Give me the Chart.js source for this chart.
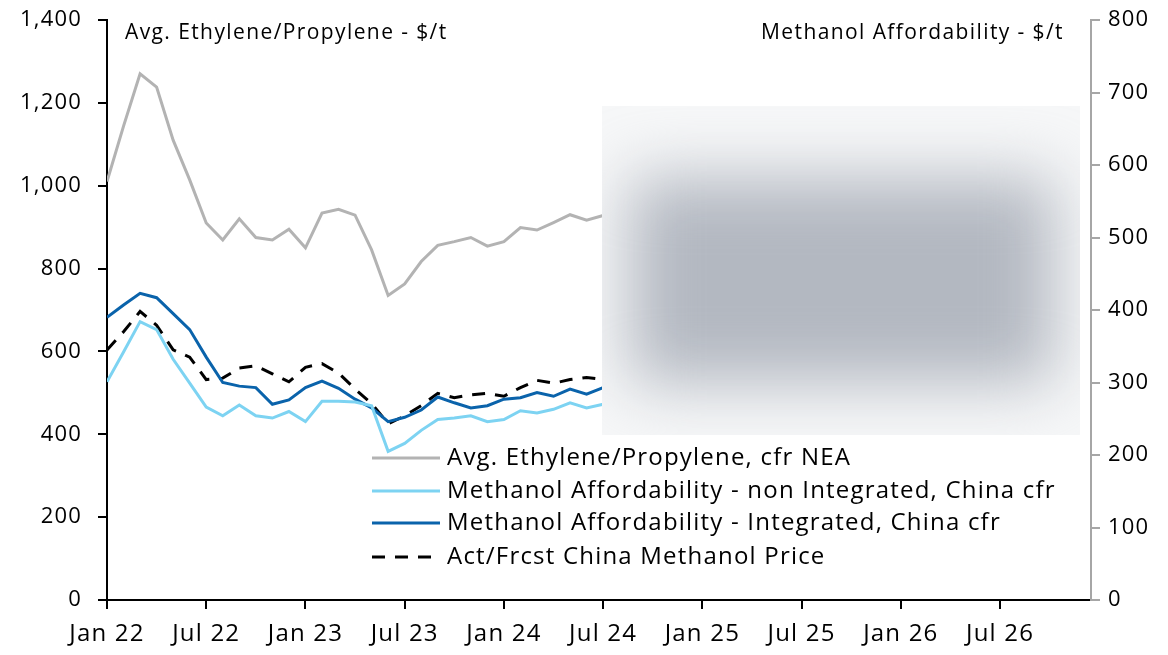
<!DOCTYPE html>
<html>
<head>
<meta charset="utf-8">
<script src="https://cdn.jsdelivr.net/npm/chart.js@4.4.0/dist/chart.umd.min.js"></script>
<style>
  html, body { margin: 0; padding: 0; background: #fff; }
  #wrap { position: relative; width: 1168px; height: 655px; }
  #blurBox {
    position: absolute; left: 602px; top: 106px; width: 478px; height: 329px;
    background: #f6f7f8; overflow: hidden;
  }
  #blurBox div {
    position: absolute; left: 28px; top: 72px; width: 424px; height: 205px;
    background: #b3b8c1; filter: blur(32px);
  }
</style>
</head>
<body>
<div id="wrap">
  <canvas id="chart" width="1168" height="655"></canvas>
  <div id="blurBox"><div></div></div>
</div>
<script>
// ---------- data (monthly, Jan 22 .. Jul 24) ---------- //
const tickLabels = ["Jan 22", "Jul 22", "Jan 23", "Jul 23", "Jan 24", "Jul 24", "Jan 25", "Jul 25", "Jan 26", "Jul 26"];

const ethylenePropylene = [1010, 1144, 1270, 1238, 1110, 1014, 910, 869, 920, 875, 869, 895, 850, 934, 943, 929,
  845, 735, 763, 817, 856, 865, 875, 854, 865, 899, 893, 911, 930, 917, 928];

const affordNonIntegrated = [301, 342, 384, 373, 332, 299, 266, 254, 269, 254, 251, 260, 246, 274, 274, 273,
  268, 205, 216, 234, 249, 251, 254, 246, 249, 261, 258, 263, 272, 265, 270];

const affordIntegrated = [390, 407, 423, 417, 395, 373, 335, 300, 295, 293, 270, 276, 293, 302, 292, 277,
  265, 246, 252, 262, 280, 272, 265, 268, 277, 279, 286, 281, 291, 284, 293];

const methanolPrice = [345, 370, 398, 379, 345, 335, 304, 306, 320, 323, 312, 301, 321, 326, 313, 291,
  271, 243, 254, 268, 285, 279, 283, 285, 281, 293, 303, 299, 304, 307, 304];

const FONT = "'Open Sans', 'Noto Sans', sans-serif";

const toPoints = (arr) => arr.map((v, i) => ({ x: i, y: v }));

// the source font is set wider than Open Sans, so add a little tracking
const spacingPlugin = {
  id: "spacing",
  beforeLayout(chart) { chart.ctx.letterSpacing = "1.2px"; },
  beforeDraw(chart) { chart.ctx.letterSpacing = "1.2px"; },
};

// legend + axis titles drawn inside the plot
const overlayPlugin = {
  id: "overlay",
  afterDraw(chart) {
    const ctx = chart.ctx;
    ctx.save();
    ctx.fillStyle = "#000";
    ctx.letterSpacing = "1.4px";
    ctx.font = "21px " + FONT;
    ctx.textBaseline = "middle";
    ctx.textAlign = "left";
    ctx.fillText("Avg. Ethylene/Propylene - $/t", 125, 33);
    ctx.textAlign = "right";
    ctx.fillText("Methanol Affordability - $/t", 1064, 33);

    // legend
    const rows = [458, 491, 523, 557];
    ctx.textAlign = "left";
    ctx.letterSpacing = "1.2px";
    ctx.font = "24px " + FONT;
    chart.data.datasets.forEach((ds, i) => {
      const y = rows[i];
      ctx.beginPath();
      ctx.strokeStyle = ds.borderColor;
      ctx.lineWidth = ds.borderWidth;
      ctx.setLineDash(ds.borderDash || []);
      ctx.moveTo(372, y);
      ctx.lineTo(ds.borderDash ? 431 : 440, y);
      ctx.stroke();
      ctx.setLineDash([]);
      ctx.fillStyle = "#000";
      ctx.fillText(ds.label, 447, y);
    });
    ctx.restore();
  },
};

const fitY = (w) => (scale) => {
  scale.width = w;
  scale.paddingTop = 0;
  scale.paddingBottom = 0;
};

const ctx = document.getElementById("chart").getContext("2d");
const chart = new Chart(ctx, {
  type: "line",
  data: {
    datasets: [
      {
        label: "Avg. Ethylene/Propylene, cfr NEA",
        data: toPoints(ethylenePropylene),
        borderColor: "#b3b3b3",
        borderWidth: 3,
        yAxisID: "y",
      },
      {
        label: "Methanol Affordability - non Integrated, China cfr",
        data: toPoints(affordNonIntegrated),
        borderColor: "#7dd3f2",
        borderWidth: 3,
        yAxisID: "y1",
      },
      {
        label: "Methanol Affordability - Integrated, China cfr",
        data: toPoints(affordIntegrated),
        borderColor: "#0a63ab",
        borderWidth: 3,
        yAxisID: "y1",
      },
      {
        label: "Act/Frcst China Methanol Price",
        data: toPoints(methanolPrice),
        borderColor: "#000000",
        borderWidth: 3,
        borderDash: [13, 10],
        yAxisID: "y1",
      },
    ],
  },
  options: {
    responsive: false,
    animation: false,
    layout: { padding: { top: 20, left: 0, right: 0, bottom: 0 } },
    elements: { point: { radius: 0 }, line: { tension: 0 } },
    plugins: { legend: { display: false }, tooltip: { enabled: false } },
    scales: {
      x: {
        type: "linear",
        min: 0,
        max: 59.5,
        border: { color: "#000", width: 2 },
        grid: { drawOnChartArea: false, color: "#000", lineWidth: 2, tickLength: 9 },
        ticks: {
          stepSize: 6,
          padding: 11,
          color: "#000",
          font: { family: FONT, size: 24 },
          maxRotation: 0,
          autoSkip: false,
          callback: (v) => tickLabels[v / 6],
        },
        afterBuildTicks: (scale) => {
          scale.ticks = scale.ticks.filter((t) => t.value % 6 === 0);
        },
        afterFit: (scale) => { scale.height = 55; },
      },
      y: {
        position: "left",
        min: 0,
        max: 1400,
        border: { color: "#000", width: 2 },
        grid: { drawOnChartArea: false, color: "#000", lineWidth: 2, tickLength: 9 },
        ticks: { stepSize: 200, padding: 16, color: "#000", font: { family: FONT, size: 22 } },
        afterFit: fitY(107),
      },
      y1: {
        position: "right",
        min: 0,
        max: 800,
        border: { color: "#a6a6a6", width: 2 },
        grid: { drawOnChartArea: false, color: "#a6a6a6", lineWidth: 2, tickLength: 9 },
        ticks: { stepSize: 100, padding: 8, color: "#000", font: { family: FONT, size: 22 } },
        afterFit: fitY(77),
      },
    },
  },
  plugins: [spacingPlugin, overlayPlugin],
});
</script>
</body>
</html>
